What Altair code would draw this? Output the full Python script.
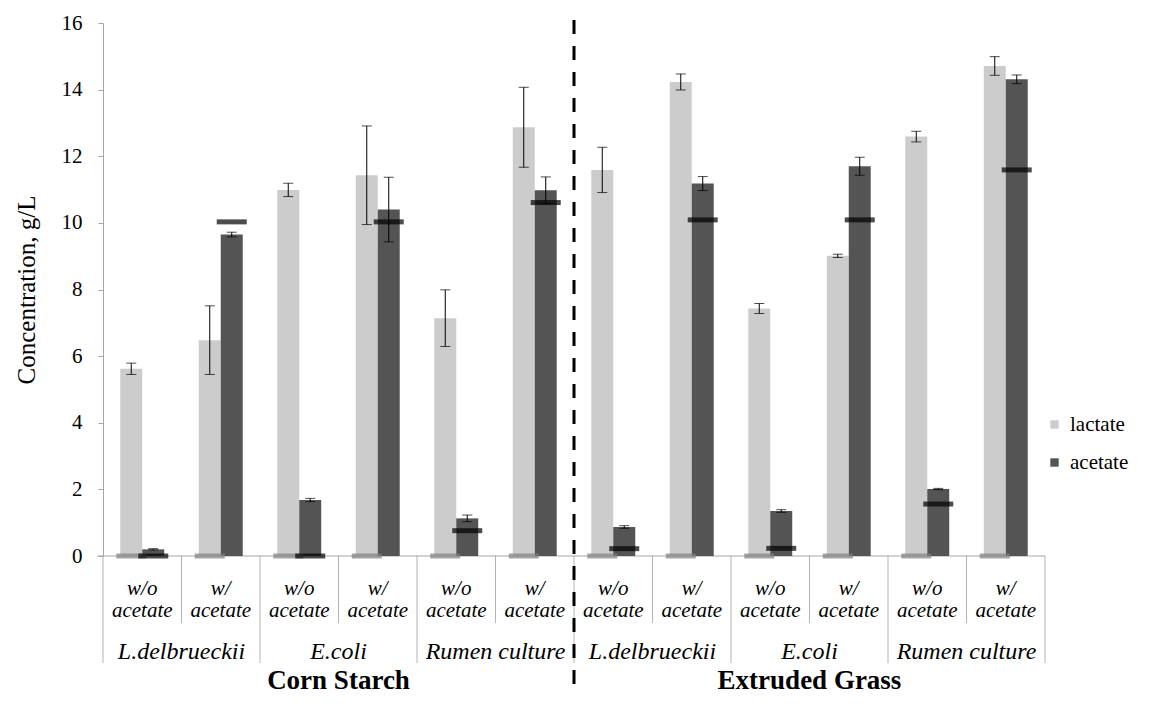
import altair as alt
import pandas as pd

# ---------------- data ----------------
conditions_top = ["w/o", "w/"] * 6
conditions_bottom = ["acetate"] * 12
organisms = ["L.delbrueckii", "E.coli", "Rumen culture", "L.delbrueckii", "E.coli", "Rumen culture"]
substrates = ["Corn Starch", "Extruded Grass"]
series_names = ["lactate", "acetate"]

lactate = [5.62, 6.48, 10.99, 11.43, 7.14, 12.87, 11.59, 14.23, 7.43, 9.01, 12.59, 14.71]
lactate_err = [0.17, 1.03, 0.20, 1.48, 0.85, 1.20, 0.68, 0.24, 0.15, 0.05, 0.16, 0.28]
acetate = [0.20, 9.65, 1.68, 10.40, 1.13, 10.98, 0.87, 11.18, 1.35, 11.70, 2.01, 14.31]
acetate_err = [0.02, 0.07, 0.05, 0.97, 0.10, 0.40, 0.04, 0.21, 0.04, 0.27, 0.02, 0.13]
initial_lactate = [0] * 12
initial_acetate = [0.0, 10.03, 0.0, 10.03, 0.76, 10.61, 0.22, 10.09, 0.23, 10.09, 1.56, 11.59]

# ---------------- tables ----------------
gids = [f"g{i:02d}" for i in range(12)]
org_ids = [f"o{i}" for i in range(6)]
sub_ids = ["s0", "s1"]

rows = []
for i in range(12):
    rows.append(dict(gid=gids[i], series="lactate", value=lactate[i], err=lactate_err[i],
                     init=initial_lactate[i]))
    rows.append(dict(gid=gids[i], series="acetate", value=acetate[i], err=acetate_err[i],
                     init=initial_acetate[i]))
df = pd.DataFrame(rows)
df["lo"] = df["value"] - df["err"]
df["hi"] = df["value"] + df["err"]

cond_df = pd.DataFrame(dict(gid=gids, top=conditions_top, bottom=conditions_bottom))
org_df = pd.DataFrame(dict(oid=org_ids, label=organisms))
sub_df = pd.DataFrame(dict(sid=sub_ids, label=substrates))
short_sep = pd.DataFrame(dict(gid=[gids[i] for i in range(1, 12, 2)]))
long_sep = pd.DataFrame(dict(gid=[gids[i] for i in range(0, 12, 2)]))
end_sep = pd.DataFrame(dict(gid=[gids[11]]))
dash_df = pd.DataFrame(dict(sid=["s1"]))
zero_df = pd.DataFrame(dict(v=[0]))

W, H = 942, 533
SERIF = "Liberation Serif, Times New Roman, serif"

xband = alt.Scale(domain=gids, paddingInner=0.44, paddingOuter=0.22)
xflat = alt.Scale(domain=gids, paddingInner=0, paddingOuter=0)
X = alt.X("gid:N", scale=xband, axis=None)
XO = alt.XOffset("series:N", scale=alt.Scale(domain=series_names, paddingInner=0, paddingOuter=0))
yscale = alt.Scale(domain=[0, 16], nice=False)
yaxis = alt.Axis(values=list(range(0, 17, 2)), title="Concentration, g/L", grid=False,
                 domainColor="#a6a6a6", tickColor="#a6a6a6", tickSize=5, labelPadding=16,
                 labelFont=SERIF, labelFontSize=21, labelColor="black",
                 titleFont=SERIF, titleFontSize=25, titleFontWeight="normal", titleColor="black",
                 titleX=-77, titleY=H / 2, titleAngle=-90, titleBaseline="middle", titleAlign="center")

base = alt.Chart(df)

bars = base.mark_bar().encode(
    x=X, xOffset=XO,
    y=alt.Y("value:Q", scale=yscale, axis=yaxis),
    color=alt.Color("series:N",
                    scale=alt.Scale(domain=series_names, range=["#cccccc", "#545454"]),
                    legend=alt.Legend(title=None, orient="none", legendX=941, legendY=391,
                                      symbolType="square", symbolSize=70, symbolStrokeWidth=0,
                                      labelFont=SERIF, labelFontSize=21, labelColor="black",
                                      rowPadding=16, labelOffset=5)),
)

err_rule = base.mark_rule(color="black", strokeWidth=1).encode(
    x=X, xOffset=XO, y=alt.Y("lo:Q", scale=yscale, axis=yaxis), y2="hi:Q")
cap_hi = base.mark_tick(color="black", size=10, thickness=1).encode(
    x=X, xOffset=XO, y=alt.Y("hi:Q", scale=yscale, axis=yaxis))
cap_lo = base.mark_tick(color="black", size=10, thickness=1).encode(
    x=X, xOffset=XO, y=alt.Y("lo:Q", scale=yscale, axis=yaxis))

zero_line = alt.Chart(zero_df).mark_rule(color="#a6a6a6", strokeWidth=1).encode(
    y=alt.Y("v:Q", scale=yscale, axis=yaxis), x=alt.value(-6), x2=alt.value(W))

markers = base.mark_tick(size=30, thickness=5).encode(
    x=X, xOffset=XO, y=alt.Y("init:Q", scale=yscale, axis=yaxis),
    color=alt.Color("series:N", scale=alt.Scale(domain=series_names, range=["#7f7f7f", "#000000"]),
                    legend=None))

txt_style = dict(font=SERIF, fontSize=21, fontStyle="italic", color="black", align="center",
                 baseline="alphabetic")
cond_top = alt.Chart(cond_df).mark_text(**txt_style).encode(
    x=alt.X("gid:N", scale=xband, axis=None), y=alt.value(572), text="top:N")
cond_bot = alt.Chart(cond_df).mark_text(**txt_style).encode(
    x=alt.X("gid:N", scale=xband, axis=None), y=alt.value(594), text="bottom:N")
org_style = dict(txt_style, fontSize=24)
org_txt = alt.Chart(org_df).mark_text(**org_style).encode(
    x=alt.X("oid:N", scale=alt.Scale(domain=org_ids, paddingInner=0, paddingOuter=0), axis=None),
    y=alt.value(636), text="label:N")
sub_txt = alt.Chart(sub_df).mark_text(font=SERIF, fontSize=27, fontWeight="bold", color="black",
                                      align="center", baseline="alphabetic").encode(
    x=alt.X("sid:N", scale=alt.Scale(domain=sub_ids, paddingInner=0, paddingOuter=0), axis=None),
    y=alt.value(666), text="label:N")

sep_color = "#b3b3b3"
short_rules = alt.Chart(short_sep).mark_rule(color=sep_color, strokeWidth=1).encode(
    x=alt.X("gid:N", scale=xflat, axis=None, bandPosition=0), y=alt.value(H), y2=alt.value(600))
long_rules = alt.Chart(long_sep).mark_rule(color=sep_color, strokeWidth=1).encode(
    x=alt.X("gid:N", scale=xflat, axis=None, bandPosition=0), y=alt.value(H), y2=alt.value(640))
end_rule = alt.Chart(end_sep).mark_rule(color=sep_color, strokeWidth=1).encode(
    x=alt.X("gid:N", scale=xflat, axis=None, bandPosition=1), y=alt.value(H), y2=alt.value(640))
dash_rule = alt.Chart(dash_df).mark_rule(color="black", strokeWidth=3, strokeDash=[14, 12]).encode(
    x=alt.X("sid:N", scale=alt.Scale(domain=sub_ids, paddingInner=0, paddingOuter=0), axis=None,
            bandPosition=0),
    y=alt.value(-3), y2=alt.value(H + 150))

chart = alt.layer(
    short_rules, long_rules, end_rule, zero_line, bars, markers, err_rule, cap_hi, cap_lo,
    cond_top, cond_bot, org_txt, sub_txt, dash_rule,
).resolve_scale(x="independent", color="independent").properties(
    width=W, height=H,
    autosize=alt.AutoSizeParams(type="none"),
    padding={"left": 95, "top": 15, "right": 104, "bottom": 140},
).configure_view(stroke=None).configure_legend(labelFont=SERIF)

chart.save("out.html", embed_options={"renderer": "svg", "actions": False})
